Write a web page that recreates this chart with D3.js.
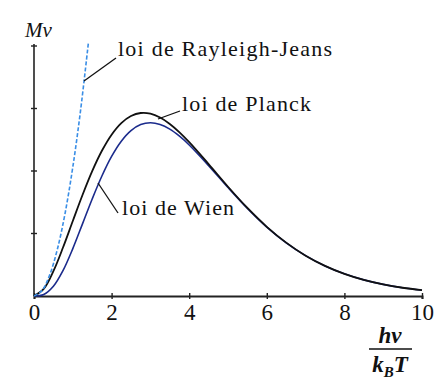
<!DOCTYPE html>
<html>
<head>
<meta charset="utf-8">
<script src="https://cdn.jsdelivr.net/npm/d3@7"></script>
<style>
  body { margin: 0; background: #fff; }
</style>
</head>
<body>
<div id="chart"></div>
<script>
// x values (h nu / kB T) and readings of each curve
const xs = [0, 0.25, 0.5, 0.75, 1, 1.25, 1.5, 1.75, 2, 2.25, 2.5, 2.75, 3, 3.25, 3.5, 3.75, 4,
  4.5, 5, 5.5, 6, 6.5, 7, 7.5, 8, 8.5, 9, 9.5, 10];
const planck = [0, 0.055, 0.193, 0.378, 0.582, 0.784, 0.969, 1.127, 1.252, 1.342, 1.397, 1.420, 1.415,
  1.385, 1.335, 1.270, 1.194, 1.024, 0.848, 0.683, 0.537, 0.414, 0.313, 0.234, 0.172, 0.125, 0.090, 0.064, 0.045];
const wien = [0, 0.012, 0.076, 0.199, 0.368, 0.560, 0.753, 0.931, 1.083, 1.201, 1.283, 1.330, 1.344,
  1.331, 1.295, 1.240, 1.172, 1.012, 0.842, 0.680, 0.535, 0.413, 0.313, 0.233, 0.172, 0.125, 0.090, 0.064, 0.045];
const rjX = [0, 0.2, 0.4, 0.6, 0.8, 1.0, 1.2, 1.4];
const rayleigh = [0, 0.04, 0.16, 0.36, 0.64, 1.0, 1.44, 1.96];
const xTicks = [0, 2, 4, 6, 8, 10];
const yTicks = [0.485, 0.97, 1.455, 1.94];

const serif = "'Liberation Serif', 'Times New Roman', Times, 'DejaVu Serif', serif";
const width = 441, height = 389;
const svg = d3.select("#chart").append("svg")
  .attr("width", width).attr("height", height)
  .attr("font-family", serif);

const x = d3.scaleLinear().domain([0, 10]).range([34, 422]);
const y = d3.scaleLinear().domain([0, 1.94]).range([296, 46]);

// y axis: plain line with small cross ticks
svg.append("line")
  .attr("x1", x(0)).attr("x2", x(0))
  .attr("y1", y(0)).attr("y2", y(1.94) - 2)
  .attr("stroke", "#222").attr("stroke-width", 1.6);
svg.selectAll(".ytick").data(yTicks).enter().append("line")
  .attr("x1", x(0) - 3).attr("x2", x(0) + 3)
  .attr("y1", d => y(d)).attr("y2", d => y(d))
  .attr("stroke", "#222").attr("stroke-width", 1.4);

// x axis
const xAxis = svg.append("g")
  .attr("transform", `translate(0,${y(0)})`)
  .call(d3.axisBottom(x).tickValues(xTicks).tickSize(3).tickFormat(d3.format("d")))
  .attr("font-family", serif);
xAxis.select(".domain").attr("stroke", "#222").attr("stroke-width", 2);
xAxis.selectAll(".tick line").attr("y1", -3).attr("y2", 3)
  .attr("stroke", "#222").attr("stroke-width", 1.4);
xAxis.selectAll(".tick text")
  .attr("y", 24).attr("dy", 0)
  .attr("font-size", 23)
  .attr("font-family", serif)
  .attr("fill", "#111");

// curves
const line = d3.line()
  .x(d => x(d[0])).y(d => y(d[1]))
  .curve(d3.curveCatmullRom.alpha(0.5));

svg.append("path")
  .datum(xs.map((v, i) => [v, wien[i]]))
  .attr("d", line)
  .attr("fill", "none").attr("stroke", "#1b2b8c").attr("stroke-width", 1.6);

svg.append("path")
  .datum(xs.map((v, i) => [v, planck[i]]))
  .attr("d", line)
  .attr("fill", "none").attr("stroke", "#111").attr("stroke-width", 1.8);

svg.append("path")
  .datum(rjX.map((v, i) => [v, rayleigh[i]]))
  .attr("d", line)
  .attr("fill", "none").attr("stroke", "#3a8ee6").attr("stroke-width", 1.6)
  .attr("stroke-dasharray", "4,2");

// labels with leader lines
const labels = [
  { text: "loi de Rayleigh-Jeans", tx: 118, ty: 56, w: 214, from: [84, 81], to: [116, 58] },
  { text: "loi de Planck", tx: 182, ty: 111, w: 129, from: [158, 119], to: [180, 111] },
  { text: "loi de Wien", tx: 122, ty: 215, w: 112, from: [98, 183], to: [118, 213] }
];
labels.forEach(l => {
  svg.append("line")
    .attr("x1", l.from[0]).attr("y1", l.from[1])
    .attr("x2", l.to[0]).attr("y2", l.to[1])
    .attr("stroke", "#111").attr("stroke-width", 1.3);
  svg.append("text")
    .attr("x", l.tx).attr("y", l.ty)
    .attr("font-family", serif)
    .attr("font-size", 22)
    .attr("textLength", l.w).attr("lengthAdjust", "spacing")
    .attr("fill", "#111")
    .text(l.text);
});

// axis titles
svg.append("text")
  .attr("x", 25).attr("y", 37)
  .attr("font-family", serif)
  .attr("font-size", 21).attr("font-style", "italic")
  .attr("fill", "#111")
  .text("Mν");

svg.append("text")
  .attr("x", 390).attr("y", 343)
  .attr("text-anchor", "middle")
  .attr("font-family", serif)
  .attr("font-size", 23).attr("font-style", "italic").attr("font-weight", "bold")
  .attr("fill", "#111")
  .text("hν");
svg.append("line")
  .attr("x1", 369).attr("x2", 412).attr("y1", 349).attr("y2", 349)
  .attr("stroke", "#111").attr("stroke-width", 1.5);
const den = svg.append("text")
  .attr("x", 390).attr("y", 372)
  .attr("text-anchor", "middle")
  .attr("font-family", serif)
  .attr("font-size", 23).attr("font-style", "italic").attr("font-weight", "bold")
  .attr("fill", "#111");
den.append("tspan").text("k");
den.append("tspan").attr("dy", 5).attr("font-size", 15).text("B");
den.append("tspan").attr("dy", -5).text("T");
</script>
</body>
</html>
